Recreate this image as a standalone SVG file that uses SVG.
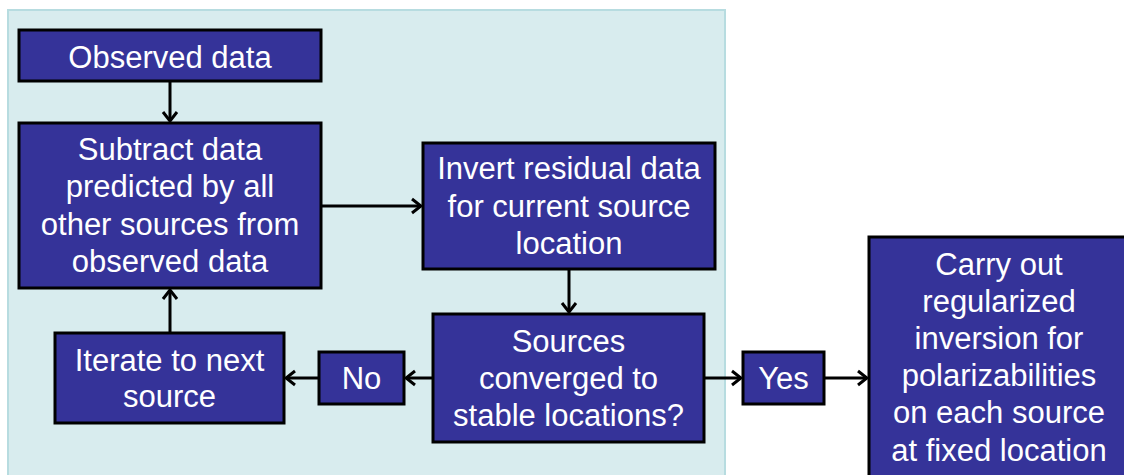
<svg xmlns="http://www.w3.org/2000/svg" width="1124" height="475" viewBox="0 0 1124 475">
<style>
.box{fill:#353399;stroke:#000;stroke-width:3}
.t{fill:#fff;font-family:"Liberation Sans",Arial,sans-serif;font-size:31px;text-anchor:middle}
.c{fill:none;stroke:#000;stroke-width:3;marker-end:url(#ah)}
</style>
<defs>
<marker id="ah" markerUnits="userSpaceOnUse" viewBox="-12 -10 14 20" markerWidth="14" markerHeight="20" refX="0" refY="0" orient="auto">
<path d="M-9,-7 L0,0 L-9,7" fill="none" stroke="#000" stroke-width="3"/>
</marker>
</defs>
<rect id="panel" x="8" y="10" width="717" height="475" fill="#d8ecee" stroke="#b7dce0" stroke-width="2"/>
<g id="connectors">
<path class="c" d="M170,81 V121"/>
<path class="c" d="M321,206 H421"/>
<path class="c" d="M569,269 V312"/>
<path class="c" d="M433,378 H406"/>
<path class="c" d="M319,378 H286"/>
<path class="c" d="M170,333 V290"/>
<path class="c" d="M704,378 H741"/>
<path class="c" d="M824,378 H867"/>
</g>
<g id="observed">
<rect class="box" x="19" y="30" width="302" height="51"/>
<text class="t" x="170" y="68">Observed data</text>
</g>
<g id="subtract">
<rect class="box" x="19" y="123" width="302" height="165"/>
<text class="t" x="170" y="160">Subtract data</text>
<text class="t" x="170" y="197">predicted by all</text>
<text class="t" x="170" y="235">other sources from</text>
<text class="t" x="170" y="272">observed data</text>
</g>
<g id="invert">
<rect class="box" x="423" y="143" width="292" height="126"/>
<text class="t" x="569" y="179">Invert residual data</text>
<text class="t" x="569" y="217">for current source</text>
<text class="t" x="569" y="254">location</text>
</g>
<g id="sources">
<rect class="box" x="433" y="314" width="271" height="128"/>
<text class="t" x="568.5" y="352">Sources</text>
<text class="t" x="568.5" y="389">converged to</text>
<text class="t" x="568.5" y="426">stable locations?</text>
</g>
<g id="iterate">
<rect class="box" x="55" y="333" width="229" height="90"/>
<text class="t" x="169.5" y="371">Iterate to next</text>
<text class="t" x="169.5" y="407">source</text>
</g>
<g id="no">
<rect class="box" x="319" y="352" width="85" height="52"/>
<text class="t" x="361.5" y="389">No</text>
</g>
<g id="yes">
<rect class="box" x="743" y="352" width="81" height="52"/>
<text class="t" x="783.5" y="389">Yes</text>
</g>
<g id="carry">
<rect class="box" x="869" y="237" width="262" height="250"/>
<text class="t" x="999" y="275">Carry out</text>
<text class="t" x="999" y="312">regularized</text>
<text class="t" x="999" y="349">inversion for</text>
<text class="t" x="999" y="386">polarizabilities</text>
<text class="t" x="999" y="423">on each source</text>
<text class="t" x="999" y="461">at fixed location</text>
</g>
</svg>
